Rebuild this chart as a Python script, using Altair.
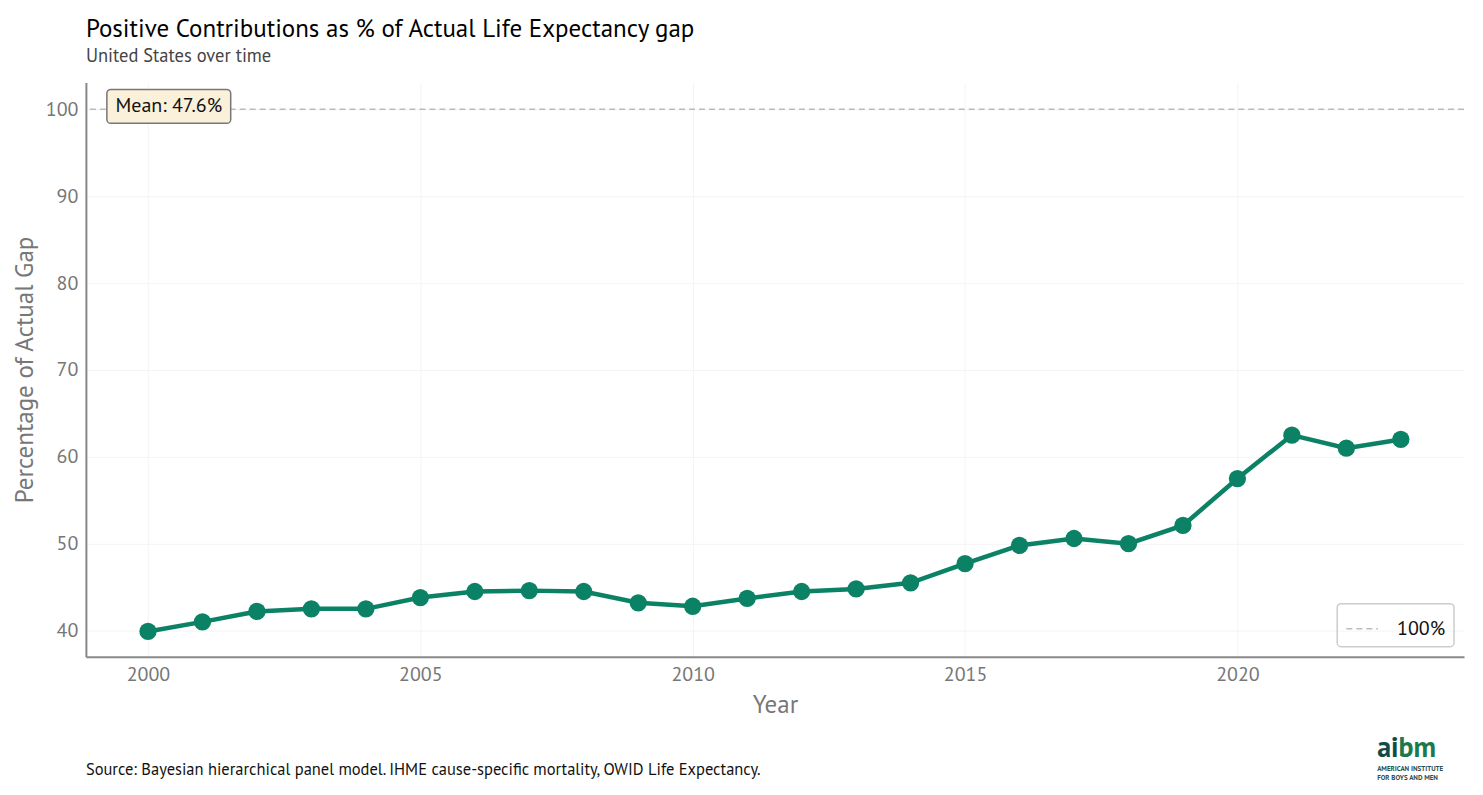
import altair as alt
import pandas as pd

FONT = "PT Sans, Lato, Noto Sans, sans-serif"

years = list(range(2000, 2024))
pct_of_gap = [39.9, 41.0, 42.2, 42.5, 42.5, 43.8, 44.5, 44.6, 44.5, 43.2,
              42.8, 43.7, 44.5, 44.8, 45.5, 47.7, 49.8, 50.6, 50.0, 52.1,
              57.5, 62.5, 61.0, 62.0]
ref_label = ["100%"]
ref_value = [100]

df = pd.DataFrame({"year": years, "pct": pct_of_gap})
ref = pd.DataFrame({"label": ref_label, "value": ref_value})
mean_txt = f"Mean: {sum(pct_of_gap) / len(pct_of_gap):.1f}%"

W, H = 1380, 575
green = "#0b8265"

x_enc = alt.X("year:Q", title="Year",
              scale=alt.Scale(domain=[1998.86, 2024.16], nice=False, zero=False),
              axis=alt.Axis(values=[2000, 2005, 2010, 2015, 2020], format="d"))
y_enc = alt.Y("pct:Q", title="Percentage of Actual Gap",
              scale=alt.Scale(domain=[37.0, 103.1], nice=False, zero=False),
              axis=alt.Axis(values=[40, 50, 60, 70, 80, 90, 100]))

base = alt.Chart(df)
line = base.mark_line(color=green, strokeWidth=4.5).encode(x=x_enc, y=y_enc)
dots = base.mark_circle(color=green, size=300, opacity=1).encode(x="year:Q", y="pct:Q")

# dashed reference line at 100%, with its own legend
rule = alt.Chart(ref).mark_rule(strokeWidth=1.5).encode(
    y="value:Q",
    color=alt.Color("label:N", scale=alt.Scale(domain=ref_label, range=["#bbbbbb"]),
                    legend=alt.Legend(title=None, orient="bottom-right")),
    strokeDash=alt.StrokeDash("label:N", scale=alt.Scale(domain=ref_label, range=[[6, 4]]),
                              legend=alt.Legend(title=None, orient="bottom-right")),
)

# mean annotation box
box = alt.Chart(ref).mark_rect(fill="#fbf0d9", stroke="#777777", strokeWidth=1.5,
                               cornerRadius=4).encode(
    x=alt.value(21), x2=alt.value(145), y=alt.value(7), y2=alt.value(41))
box_text = alt.Chart(ref).mark_text(fontSize=20, font=FONT, color="#111111").encode(
    x=alt.value(83), y=alt.value(24), text=alt.value(mean_txt))

caption = alt.Chart(ref).mark_text(fontSize=16.5, font=FONT, color="#111111",
                                   align="left").encode(
    x=alt.value(0), y=alt.value(H + 114),
    text=alt.value("Source: Bayesian hierarchical panel model. IHME cause-specific mortality, OWID Life Expectancy."))

# logo, bottom right
logo_a = alt.Chart(ref).mark_text(fontSize=28, font=FONT, fontWeight="bold",
                                  color="#0f4c46", align="left", baseline="bottom").encode(
    x=alt.value(1293), y=alt.value(H + 106), text=alt.value("ai"))
logo_b = alt.Chart(ref).mark_text(fontSize=28, font=FONT, fontWeight="bold",
                                  color="#1b7a4c", align="right", baseline="bottom").encode(
    x=alt.value(1352), y=alt.value(H + 106), text=alt.value("bm"))
logo1 = alt.Chart(ref).mark_text(fontSize=7, font=FONT, fontWeight="bold", color="#2f4f4f",
                                 align="left", baseline="top").encode(
    x=alt.value(1293), y=alt.value(H + 109), text=alt.value("AMERICAN INSTITUTE"))
logo2 = alt.Chart(ref).mark_text(fontSize=7, font=FONT, fontWeight="bold", color="#2f4f4f",
                                 align="left", baseline="top").encode(
    x=alt.value(1293), y=alt.value(H + 118), text=alt.value("FOR BOYS AND MEN"))

chart = alt.layer(rule, line, dots, box, box_text, caption,
                  logo_a, logo_b, logo1, logo2).properties(
    width=W, height=H,
    padding={"left": 4, "top": 8, "right": 10, "bottom": 5},
    title=alt.TitleParams("Positive Contributions as % of Actual Life Expectancy gap",
                          subtitle="United States over time", anchor="start", frame="group",
                          font=FONT, fontSize=25, fontWeight="normal", color="#000000",
                          subtitleFont=FONT, subtitleFontSize=18.5, subtitleColor="#444444",
                          subtitlePadding=5, offset=17),
).configure_view(stroke=None).configure_axis(
    labelFont=FONT, titleFont=FONT, labelFontSize=20, titleFontSize=25,
    labelColor="#777777", titleColor="#777777", titleFontWeight="normal",
    domainColor="#888888", domainWidth=2, ticks=False, labelPadding=8,
    gridColor="#f4f4f4", gridWidth=1,
).configure_axisX(titlePadding=8).configure_axisY(titlePadding=8).configure_legend(
    labelFont=FONT, labelFontSize=20, labelColor="#111111",
    strokeColor="#cccccc", strokeWidth=1.5, cornerRadius=4, padding=8,
    symbolType="stroke", symbolSize=1000, symbolStrokeWidth=1.5, offset=10,
    labelOffset=18,
)

chart.save("out.html", embed_options={"renderer": "svg", "actions": False})
